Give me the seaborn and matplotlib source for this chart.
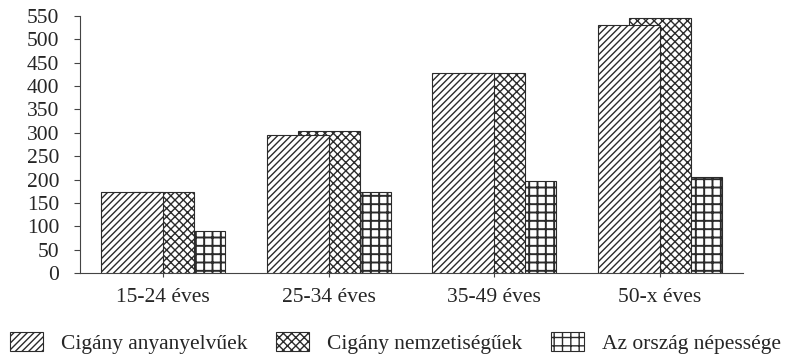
import pandas as pd
import matplotlib.pyplot as plt
import seaborn as sns

# Age groups on the x axis
age_groups = ["15-24 éves", "25-34 éves", "35-49 éves", "50-x éves"]

# Series names (legend)
series_names = ["Cigány anyanyelvűek", "Cigány nemzetiségűek", "Az ország népessége"]

# Values
anyanyelvuek = [174, 295, 428, 530]
nemzetisegiek = [174, 304, 428, 545]
orszag = [90, 174, 198, 206]

y_ticks = list(range(0, 551, 50))

# Build a long table for seaborn
rows = []
for name, values in zip(series_names, [anyanyelvuek, nemzetisegiek, orszag]):
    for age, value in zip(age_groups, values):
        rows.append({"age": age, "series": name, "value": value})
df = pd.DataFrame(rows)

sns.set_style("ticks")
plt.rcParams["font.family"] = ["Liberation Serif", "DejaVu Serif"]
plt.rcParams["hatch.linewidth"] = 1.0

fig = plt.figure(figsize=(7.92, 3.59), dpi=100)
ax = fig.add_axes([0.101, 0.239, 0.837, 0.717])

sns.barplot(data=df, x="age", y="value", hue="series", hue_order=series_names,
            palette=["white", "white", "white"], edgecolor="#2b2b2b", linewidth=0.8,
            saturation=1, errorbar=None, ax=ax)

# The bars overlap like in the original print: first bar in front, twice as wide
seg = 0.187
hatches = ["/////", "xxxx", "++"]
hatch_widths = [1.0, 1.0, 1.4]
starts = [-2 * seg, -seg, 0]
zorders = [4, 3, 2]
for container, hatch, hw, start, z in zip(ax.containers, hatches, hatch_widths, starts, zorders):
    for i, patch in enumerate(container):
        patch.set_x(i + start)
        patch.set_width(2 * seg)
        patch.set_hatch(hatch)
        patch.set_zorder(z)
        if hasattr(patch, "set_hatch_linewidth"):
            patch.set_hatch_linewidth(hw)

if ax.legend_ is not None:
    ax.legend_.remove()

ax.set_xlim(-0.5, 3.5)
ax.set_ylim(0, 550)
ax.set_yticks(y_ticks)
ax.set_xlabel("")
ax.set_ylabel("")
ax.tick_params(axis="y", labelsize=15.5, length=4, width=0.8, pad=11, color="#444")
ax.tick_params(axis="x", labelsize=15.5, length=3, width=0.8, pad=8, color="#444")
sns.despine(ax=ax)
for side in ["left", "bottom"]:
    ax.spines[side].set_linewidth(0.8)
    ax.spines[side].set_color("#444")

handles = [c[0] for c in ax.containers]
fig.legend(handles=handles, labels=series_names, loc="center left",
           bbox_to_anchor=(10 / 792, 0.045), ncol=3, frameon=False, fontsize=15.5,
           handlelength=1.55, handleheight=1.0, handletextpad=0.84,
           columnspacing=1.3, borderpad=0, borderaxespad=0)

fig.savefig("out.png", dpi=100)
